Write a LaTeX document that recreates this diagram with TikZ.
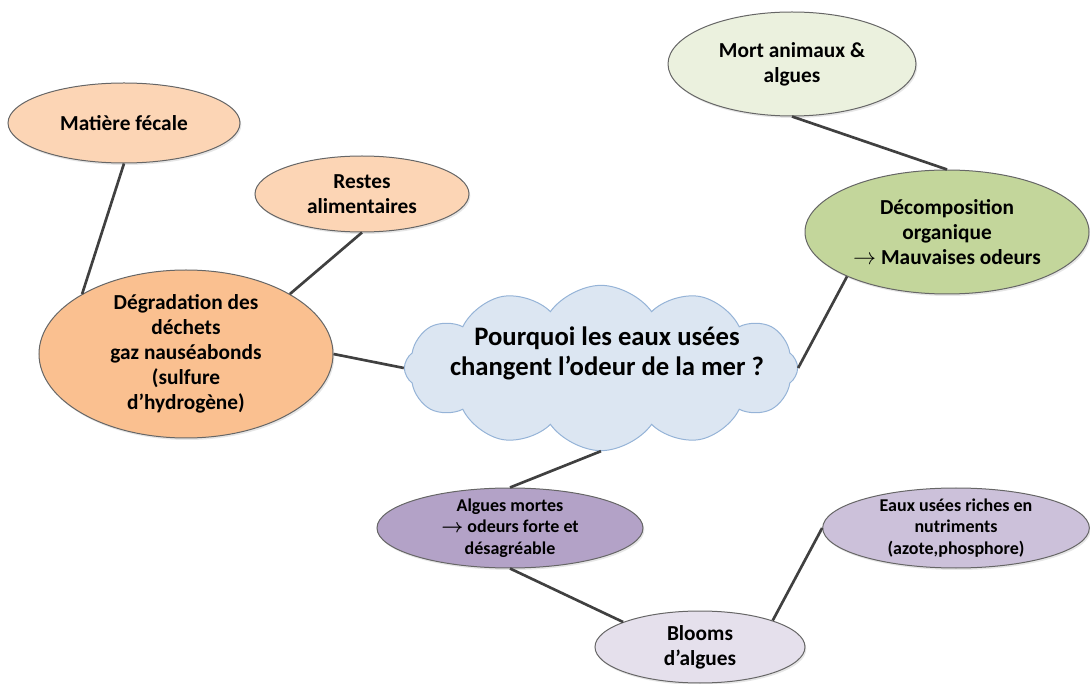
\documentclass[tikz,border=0pt]{standalone}
\usepackage{fontspec}
\usepackage{amsmath}
\setmainfont{Carlito}
\usetikzlibrary{shapes.geometric, shapes.symbols, shadows}
\definecolor{peach}{HTML}{FCD5B5}
\definecolor{orangebox}{HTML}{FAC090}
\definecolor{palegreen}{HTML}{EBF1DE}
\definecolor{olivebox}{HTML}{C3D69B}
\definecolor{lilac}{HTML}{B3A2C7}
\definecolor{mauve}{HTML}{CCC1DA}
\definecolor{palelilac}{HTML}{E5E0EC}
\definecolor{skyfill}{HTML}{DCE6F2}
\definecolor{skyline}{HTML}{95B3D7}
\definecolor{linkgray}{HTML}{404040}
\tikzstyle{bubble} = [ellipse, draw=black!60, line width=0.75pt, inner sep=0pt, inner ysep=-6pt, align=center, font=\bfseries\fontsize{16pt}{18.75pt}\selectfont, drop shadow={opacity=0.2, shadow xshift=1pt, shadow yshift=-1.5pt}]
\tikzstyle{smallbubble} = [bubble, font=\bfseries\fontsize{13.5pt}{16pt}\selectfont]
\tikzstyle{thought} = [cloud, cloud puffs=12, cloud puff arc=110, cloud ignores aspect, draw=skyline, line width=0.75pt, fill=skyfill, minimum width=295pt, minimum height=124pt]
\tikzstyle{questiontext} = [align=center, font=\bfseries\fontsize{20pt}{22.5pt}\selectfont]
\tikzstyle{link} = [draw=linkgray, line width=2pt]

\begin{document}
\begin{tikzpicture}[x=0.75pt, y=-0.75pt]
	\useasboundingbox (0,0) rectangle (1090,684);
	\node [bubble, fill=peach, minimum width=174pt, minimum height=60pt] 			(fecal) 	at (124,123) {Matière fécale};
	\node [bubble, fill=peach, minimum width=160.5pt, minimum height=57pt] 			(food) 		at (362,194) {Restes\\alimentaires};
	\node [bubble, fill=orangebox, minimum width=220.5pt, minimum height=126pt] 	(waste) 	at (186,354) {Dégradation des\\déchets\\gaz nauséabonds\\(sulfure\\d’hydrogène)};
	\node [thought] 																(cloud) 	at (601,368) {};
	\node [questiontext] 															(question) 	at (607,353) {Pourquoi les eaux usées\\changent l’odeur de la mer ?};
	\node [bubble, fill=palegreen, minimum width=186pt, minimum height=78pt] 		(dead) 		at (792,64) {Mort animaux \&\\algues};
	\node [bubble, fill=olivebox, minimum width=213pt, minimum height=93pt] 		(decay) 	at (947,232) {Décomposition\\organique\\$\rightarrow$ Mauvaises odeurs};
	\node [smallbubble, fill=lilac, minimum width=199.5pt, minimum height=60pt] 	(algae) 	at (510,528) {Algues mortes\\$\boldsymbol{\rightarrow}$ odeurs forte et\\désagréable};
	\node [smallbubble, fill=mauve, minimum width=200pt, minimum height=60pt] 		(nutrients) at (956,528) {Eaux usées riches en\\nutriments\\(azote,phosphore)};
	\node [bubble, fill=palelilac, minimum width=157.5pt, minimum height=54pt] 		(bloom) 	at (700,647) {Blooms\\d’algues};

	\draw [link] (fecal.south) -- (waste.150);
	\draw [link] (food.south) -- (waste.30);
	\draw [link] (waste.east) -- (cloud.west);
	\draw [link] (dead.south) -- (decay.north);
	\draw [link] (decay.204) -- (cloud.east);
	\draw [link] (cloud.south) -- (algae.north);
	\draw [link] (algae.south) -- (bloom.162);
	\draw [link] (bloom.20) -- (nutrients.west);
\end{tikzpicture}
\end{document}
